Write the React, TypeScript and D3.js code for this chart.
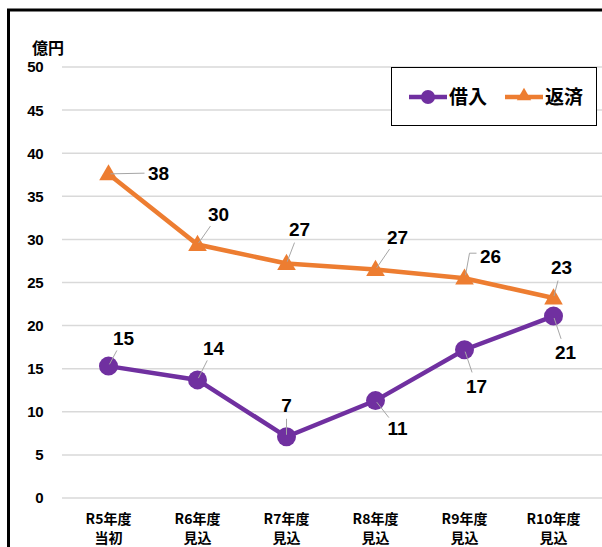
import React from 'react';
import * as d3 from 'd3';

// data
const categories = ['R5年度\n当初', 'R6年度\n見込', 'R7年度\n見込', 'R8年度\n見込', 'R9年度\n見込', 'R10年度\n見込'];
const borrowing = [15.3, 13.7, 7.1, 11.3, 17.2, 21.1];
const borrowingLabels = ['15', '14', '7', '11', '17', '21'];
const repayment = [37.6, 29.4, 27.2, 26.5, 25.5, 23.2];
const repaymentLabels = ['38', '30', '27', '27', '26', '23'];
const yTicks = [0, 5, 10, 15, 20, 25, 30, 35, 40, 45, 50];

// label offsets (dx, dy from the point) -- layout only
const borrowOffsets = [[15, -28], [16, -32], [0, -32], [22, 28], [12, 36], [12, 36]];
const repayOffsets = [[50, -1], [21, -30], [13, -34], [22, -32], [26, -22], [8, -31]];
// the "26" label uses a bent leader line
const elbowIndex = 4;

const W = 602;
const H = 547;
const purple = '#7030A0';
const orange = '#ED7D31';
const numFont = '"Liberation Sans", Arial, sans-serif';
const jpFont = '"Noto Sans CJK JP", sans-serif';

export default function App() {
  const x = d3.scaleBand().domain(categories).range([64, 598]);
  const y = d3.scaleLinear().domain([0, 50]).range([498, 67]);
  const cx = (i: number) => (x(categories[i]) as number) + x.bandwidth() / 2;

  const line = d3
    .line<number>()
    .x((d, i) => cx(i))
    .y((d) => y(d));

  const tri = d3.symbol().type(d3.symbolTriangle).size(150);

  const leader = (px: number, py: number, dx: number, dy: number) => {
    // short grey line from the marker toward its label
    const len = Math.hypot(dx, dy);
    const ux = dx / len;
    const uy = dy / len;
    const end = len - 14;
    return (
      <line
        x1={px + ux * 2}
        y1={py + uy * 2}
        x2={px + ux * end}
        y2={py + uy * end}
        stroke="#a6a6a6"
        strokeWidth={1}
      />
    );
  };

  const elbow = (px: number, py: number) => (
    <polyline
      points={`${px + 1},${py - 3} ${px + 5},${py - 25} ${px + 12},${py - 25}`}
      fill="none"
      stroke="#a6a6a6"
      strokeWidth={1}
    />
  );

  return (
    <svg
      width={W}
      height={H}
      style={{ position: 'absolute', left: 0, top: 0, background: '#fff' }}
    >
      {/* outer frame, cropped on right and bottom */}
      <rect x={8.5} y={10} width={W + 10} height={H + 10} fill="none" stroke="#000" strokeWidth={3} />

      {/* grid */}
      {yTicks.map((t) => (
        <g key={t}>
          <line x1={62} x2={W} y1={y(t)} y2={y(t)} stroke="#d9d9d9" strokeWidth={1.5} />
          <text
            x={43}
            y={y(t)}
            dy="0.36em"
            textAnchor="end"
            fontFamily={numFont}
            fontWeight="bold"
            fontSize={15}
            letterSpacing={-0.5}
          >
            {t}
          </text>
        </g>
      ))}
      <text x={32} y={54} fontFamily={jpFont} fontWeight="bold" fontSize={16}>
        億円
      </text>

      {/* category labels */}
      {categories.map((c, i) => (
        <text
          key={c}
          x={cx(i)}
          textAnchor="middle"
          fontFamily={jpFont}
          fontWeight="bold"
          fontSize={14}
        >
          {c.split('\n').map((ln, j) => (
            <tspan key={j} x={cx(i)} y={524 + j * 19}>
              {ln}
            </tspan>
          ))}
        </text>
      ))}

      {/* series */}
      <path d={line(repayment) as string} fill="none" stroke={orange} strokeWidth={4.5} />
      <path d={line(borrowing) as string} fill="none" stroke={purple} strokeWidth={4.5} />

      {repayment.map((v, i) => (
        <path key={'t' + i} d={tri() as string} transform={`translate(${cx(i)},${y(v) + 1})`} fill={orange} />
      ))}
      {borrowing.map((v, i) => (
        <circle key={'c' + i} cx={cx(i)} cy={y(v)} r={9.5} fill={purple} />
      ))}

      {/* data labels */}
      {repayment.map((v, i) => {
        const [dx, dy] = repayOffsets[i];
        return (
          <g key={'rl' + i}>
            {i === elbowIndex ? elbow(cx(i), y(v)) : leader(cx(i), y(v), dx, dy)}
            <text
              x={cx(i) + dx}
              y={y(v) + dy}
              dy="0.36em"
              textAnchor="middle"
              fontFamily={numFont}
              fontWeight="bold"
              fontSize={19}
            >
              {repaymentLabels[i]}
            </text>
          </g>
        );
      })}
      {borrowing.map((v, i) => {
        const [dx, dy] = borrowOffsets[i];
        return (
          <g key={'bl' + i}>
            {leader(cx(i), y(v), dx, dy)}
            <text
              x={cx(i) + dx}
              y={y(v) + dy}
              dy="0.36em"
              textAnchor="middle"
              fontFamily={numFont}
              fontWeight="bold"
              fontSize={19}
            >
              {borrowingLabels[i]}
            </text>
          </g>
        );
      })}

      {/* legend */}
      <rect x={391.5} y={67.5} width={205} height={58} fill="#fff" stroke="#000" strokeWidth={1} />
      <line x1={409} x2={447} y1={97} y2={97} stroke={purple} strokeWidth={4.5} />
      <circle cx={428} cy={97} r={7} fill={purple} />
      <text x={449} y={97} dy="0.36em" fontFamily={jpFont} fontWeight="bold" fontSize={19}>
        借入
      </text>
      <line x1={505} x2={543} y1={97} y2={97} stroke={orange} strokeWidth={4.5} />
      <path d={d3.symbol().type(d3.symbolTriangle).size(90)() as string} transform="translate(524,96)" fill={orange} />
      <text x={545} y={97} dy="0.36em" fontFamily={jpFont} fontWeight="bold" fontSize={19}>
        返済
      </text>
    </svg>
  );
}
